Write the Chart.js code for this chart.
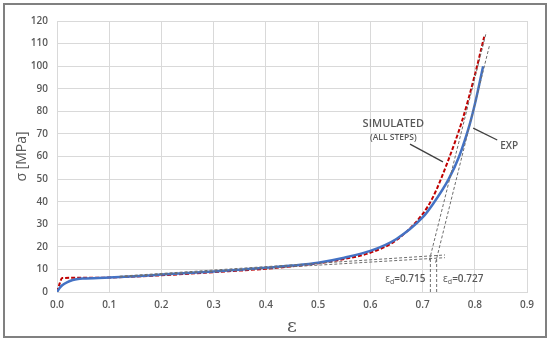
<!DOCTYPE html>
<html>
<head>
<meta charset="utf-8">
<script src="https://cdn.jsdelivr.net/npm/chart.js@4.4.1/dist/chart.umd.min.js"></script>
<style>
  html, body { margin: 0; padding: 0; background: #ffffff; }
  #wrap { width: 550px; height: 342px; position: relative; }
</style>
</head>
<body>
<div id="wrap"><canvas id="chart"></canvas></div>
<script>
// Experimental curve (EXP)
const expStrain = [0, 0.005, 0.01, 0.02, 0.03, 0.04, 0.05, 0.1, 0.15, 0.2, 0.25, 0.3, 0.35, 0.4, 0.45, 0.5, 0.55, 0.6, 0.65, 0.7, 0.72, 0.75, 0.77, 0.79, 0.8, 0.816];
const expStress = [0, 1.8, 3.0, 4.4, 5.3, 5.8, 6.0, 6.4, 7.0, 7.7, 8.4, 9.1, 9.9, 10.7, 11.7, 13.0, 15.2, 18.2, 23.5, 33.0, 39.0, 50.0, 60.0, 74.0, 83.0, 100.0];

// Simulated curve (all steps)
const simStrain = [0, 0.004, 0.01, 0.05, 0.1, 0.2, 0.3, 0.4, 0.5, 0.55, 0.6, 0.65, 0.7, 0.72, 0.747, 0.776, 0.8, 0.818];
const simStress = [0, 3.0, 6.2, 6.3, 6.4, 7.4, 8.8, 10.3, 12.7, 14.6, 17.4, 23.0, 34.5, 42.0, 57.0, 76.0, 96.0, 113.0];

// Construction lines (tangents and drops to the axis)
const tangentLow1 = [[0.12, 7.0], [0.743, 16.4]];
const tangentLow2 = [[0.12, 6.7], [0.743, 15.2]];
const tangentHigh1 = [[0.713, 14.0], [0.822, 115.0]];
const tangentHigh2 = [[0.725, 13.0], [0.828, 109.0]];
const dropLine1 = [[0.715, 0], [0.715, 16.0]];
const dropLine2 = [[0.727, 0], [0.727, 15.0]];

// Leader lines for the labels
const simLeader = [[0.676, 65.5], [0.739, 57.6]];
const expLeader = [[0.797, 72.6], [0.843, 67.3]];

// Axis ticks
const xTicks = [0, 0.1, 0.2, 0.3, 0.4, 0.5, 0.6, 0.7, 0.8, 0.9];
const yTicks = [0, 10, 20, 30, 40, 50, 60, 70, 80, 90, 100, 110, 120];

const textGray = '#595959';
const gridGray = '#d9d9d9';

const toPoints = (xs, ys) => xs.map((x, i) => ({ x, y: ys[i] }));
const pairPoints = (pairs) => pairs.map(([x, y]) => ({ x, y }));

const dashedGray = (pairs) => ({
  data: pairPoints(pairs),
  borderColor: '#6e6e6e',
  borderWidth: 1,
  borderDash: [3, 2],
  pointRadius: 0,
  showLine: true,
  fill: false,
});

const leader = (pairs) => ({
  data: pairPoints(pairs),
  borderColor: '#404040',
  borderWidth: 1.3,
  pointRadius: 0,
  showLine: true,
  fill: false,
});

// Frame around the whole figure
const framePlugin = {
  id: 'frame',
  beforeDraw(c) {
    const { ctx } = c;
    ctx.save();
    ctx.fillStyle = '#ffffff';
    ctx.fillRect(0, 0, c.width, c.height);
    ctx.strokeStyle = '#808080';
    ctx.lineWidth = 2;
    ctx.strokeRect(4, 4, 542, 333);
    ctx.restore();
  },
};

// Text labels placed in data space
const labelPlugin = {
  id: 'labels',
  afterDatasetsDraw(c) {
    const { ctx } = c;
    const x = c.scales.x;
    const y = c.scales.y;
    ctx.save();
    ctx.fillStyle = textGray;
    ctx.textAlign = 'center';
    ctx.textBaseline = 'middle';
    ctx.font = '600 11px "Open Sans"';
    ctx.fillText('SIMULATED', x.getPixelForValue(0.644), y.getPixelForValue(74.4));
    ctx.font = '600 8.5px "Open Sans"';
    ctx.fillText('(ALL STEPS)', x.getPixelForValue(0.644), y.getPixelForValue(68.6));
    ctx.font = '600 10px "Open Sans"';
    ctx.fillText('EXP', x.getPixelForValue(0.866), y.getPixelForValue(64.7));

    const epsLabel = (text, cx, cy) => {
      ctx.font = '10px "Open Sans"';
      const w1 = ctx.measureText('ε').width;
      ctx.font = '7px "Open Sans"';
      const w2 = ctx.measureText('d').width;
      ctx.font = '600 10px "Open Sans"';
      const w3 = ctx.measureText(text).width;
      let px = x.getPixelForValue(cx) - (w1 + w2 + w3) / 2;
      const py = y.getPixelForValue(cy);
      ctx.textAlign = 'left';
      ctx.font = '10px "Open Sans"';
      ctx.fillText('ε', px, py);
      px += w1;
      ctx.font = '7px "Open Sans"';
      ctx.fillText('d', px, py + 3);
      px += w2;
      ctx.font = '600 10px "Open Sans"';
      ctx.fillText(text, px, py);
    };
    epsLabel('=0.715', 0.667, 5.8);
    epsLabel('=0.727', 0.778, 5.8);
    ctx.restore();
  },
};

new Chart(document.getElementById('chart'), {
  type: 'scatter',
  data: {
    datasets: [
      dashedGray(tangentLow1),
      dashedGray(tangentLow2),
      dashedGray(tangentHigh1),
      dashedGray(tangentHigh2),
      dashedGray(dropLine1),
      dashedGray(dropLine2),
      {
        label: 'EXP',
        data: toPoints(expStrain, expStress),
        borderColor: '#4472c4',
        borderWidth: 2.5,
        pointRadius: 0,
        showLine: true,
        cubicInterpolationMode: 'monotone',
        fill: false,
      },
      {
        label: 'SIMULATED',
        data: toPoints(simStrain, simStress),
        borderColor: '#c00000',
        borderWidth: 2,
        borderDash: [4, 2],
        pointRadius: 0,
        showLine: true,
        cubicInterpolationMode: 'monotone',
        fill: false,
      },
      leader(simLeader),
      leader(expLeader),
    ],
  },
  options: {
    responsive: true,
    maintainAspectRatio: false,
    animation: false,
    layout: {
      padding: { top: 21, right: 23, left: 0, bottom: 0 },
    },
    scales: {
      x: {
        type: 'linear',
        min: 0,
        max: 0.9,
        afterFit(scale) { scale.height = 50; },
        afterBuildTicks(scale) { scale.ticks = xTicks.map(v => ({ value: v })); },
        grid: { color: gridGray, drawTicks: false },
        border: { color: gridGray },
        ticks: {
          color: textGray,
          padding: 7,
          font: { family: 'Open Sans', size: 10, weight: '600' },
          callback: (v) => Number(v).toFixed(1),
        },
        title: {
          display: true,
          text: 'ε',
          color: textGray,
          font: { family: 'DejaVu Serif', size: 19 },
          padding: { bottom: 4, top: 0 },
        },
      },
      y: {
        type: 'linear',
        min: 0,
        max: 120,
        afterFit(scale) { scale.width = 57; },
        afterBuildTicks(scale) { scale.ticks = yTicks.map(v => ({ value: v })); },
        grid: { color: gridGray, drawTicks: false },
        border: { display: false },
        ticks: {
          color: textGray,
          padding: 9,
          font: { family: 'Open Sans', size: 10, weight: '600' },
        },
        title: {
          display: true,
          text: 'σ [MPa]',
          color: textGray,
          font: { family: 'Open Sans', size: 14 },
          padding: { top: 14, bottom: 0 },
        },
      },
    },
    plugins: {
      legend: { display: false },
      tooltip: { enabled: false },
    },
  },
  plugins: [framePlugin, labelPlugin],
});
</script>
</body>
</html>
